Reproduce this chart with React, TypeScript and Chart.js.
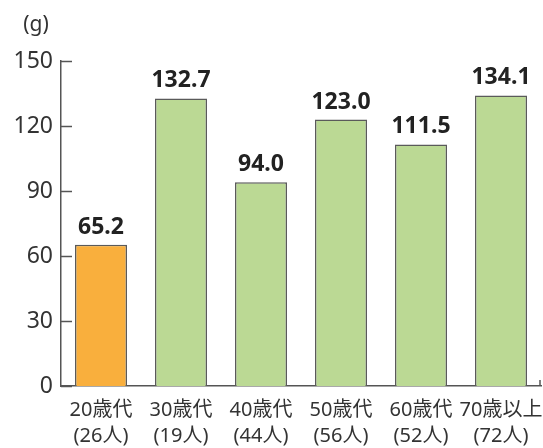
import React, { useEffect, useRef } from "react";
import { Chart, registerables } from "chart.js";

Chart.register(...registerables);

const ageGroups = ["20歳代", "30歳代", "40歳代", "50歳代", "60歳代", "70歳以上"];
const counts = ["(26人)", "(19人)", "(44人)", "(56人)", "(52人)", "(72人)"];
const values = [65.2, 132.7, 94.0, 123.0, 111.5, 134.1];
const barColors = ["#F9AF3D", "#BBD994", "#BBD994", "#BBD994", "#BBD994", "#BBD994"];
const yTicks = [0, 30, 60, 90, 120, 150];
const unitLabel = "(g)";

const FONT = "'Noto Sans', 'Noto Sans CJK JP', sans-serif";
const AXIS_COLOR = "#555555";
const TEXT_COLOR = "#333333";

const decorPlugin = {
  id: "decor",
  afterDatasetsDraw(chart: any) {
    const ctx = chart.ctx;
    const area = chart.chartArea;
    const y = chart.scales.y;
    ctx.save();
    // inward ticks on y axis
    ctx.strokeStyle = AXIS_COLOR;
    ctx.lineWidth = 1.5;
    yTicks.forEach((v) => {
      const py = Math.round(y.getPixelForValue(v)) + 0.5;
      ctx.beginPath();
      ctx.moveTo(area.left, py);
      ctx.lineTo(area.left + 11, py);
      ctx.stroke();
    });
    // small end tick on x axis
    ctx.beginPath();
    ctx.moveTo(area.right - 1, area.bottom);
    ctx.lineTo(area.right - 1, area.bottom - 6);
    ctx.stroke();
    // value labels
    const meta = chart.getDatasetMeta(0);
    ctx.fillStyle = "#222222";
    ctx.font = `bold 23px ${FONT}`;
    ctx.textAlign = "center";
    ctx.textBaseline = "alphabetic";
    meta.data.forEach((bar: any, i: number) => {
      ctx.fillText(values[i].toFixed(1), bar.x, bar.y - 11);
    });
    // unit label
    ctx.fillStyle = TEXT_COLOR;
    ctx.font = `21px ${FONT}`;
    ctx.textAlign = "center";
    ctx.textBaseline = "middle";
    ctx.fillText(unitLabel, 36, 25);
    ctx.restore();
  },
};

export default function App() {
  const canvasRef = useRef<HTMLCanvasElement | null>(null);

  useEffect(() => {
    if (!canvasRef.current) return;
    const chart = new Chart(canvasRef.current, {
      type: "bar",
      data: {
        labels: ageGroups.map((g, i) => [g, counts[i]]),
        datasets: [
          {
            data: values,
            backgroundColor: barColors,
            borderColor: "#5a5a5a",
            borderWidth: 1.5,
            categoryPercentage: 1,
            barPercentage: 0.65,
          },
        ],
      },
      options: {
        animation: false,
        responsive: true,
        maintainAspectRatio: false,
        layout: { padding: { top: 61, right: 2, left: 0, bottom: 0 } },
        plugins: {
          legend: { display: false },
          tooltip: { enabled: false },
          title: { display: false },
        },
        scales: {
          x: {
            grid: { display: false, drawTicks: false },
            border: { display: true, color: AXIS_COLOR, width: 1.5 },
            ticks: {
              color: TEXT_COLOR,
              padding: 11,
              maxRotation: 0,
              autoSkip: false,
              font: { family: FONT, size: 20, lineHeight: 1.3 },
            },
            afterFit(scale: any) {
              scale.height = 62;
              scale.paddingLeft = 0;
              scale.paddingRight = 0;
            },
          },
          y: {
            min: 0,
            max: 150,
            grid: { display: false, drawTicks: false },
            border: { display: true, color: AXIS_COLOR, width: 1.5 },
            afterBuildTicks(scale: any) {
              scale.ticks = yTicks.map((v) => ({ value: v }));
            },
            ticks: {
              color: TEXT_COLOR,
              padding: 8,
              font: { family: FONT, size: 23 },
            },
            afterFit(scale: any) {
              scale.width = 61;
            },
          },
        },
      },
      plugins: [decorPlugin],
    });
    return () => chart.destroy();
  }, []);

  return (
    <div style={{ position: "absolute", left: 0, top: 0, width: 543, height: 448, background: "#ffffff" }}>
      <canvas ref={canvasRef} />
    </div>
  );
}
